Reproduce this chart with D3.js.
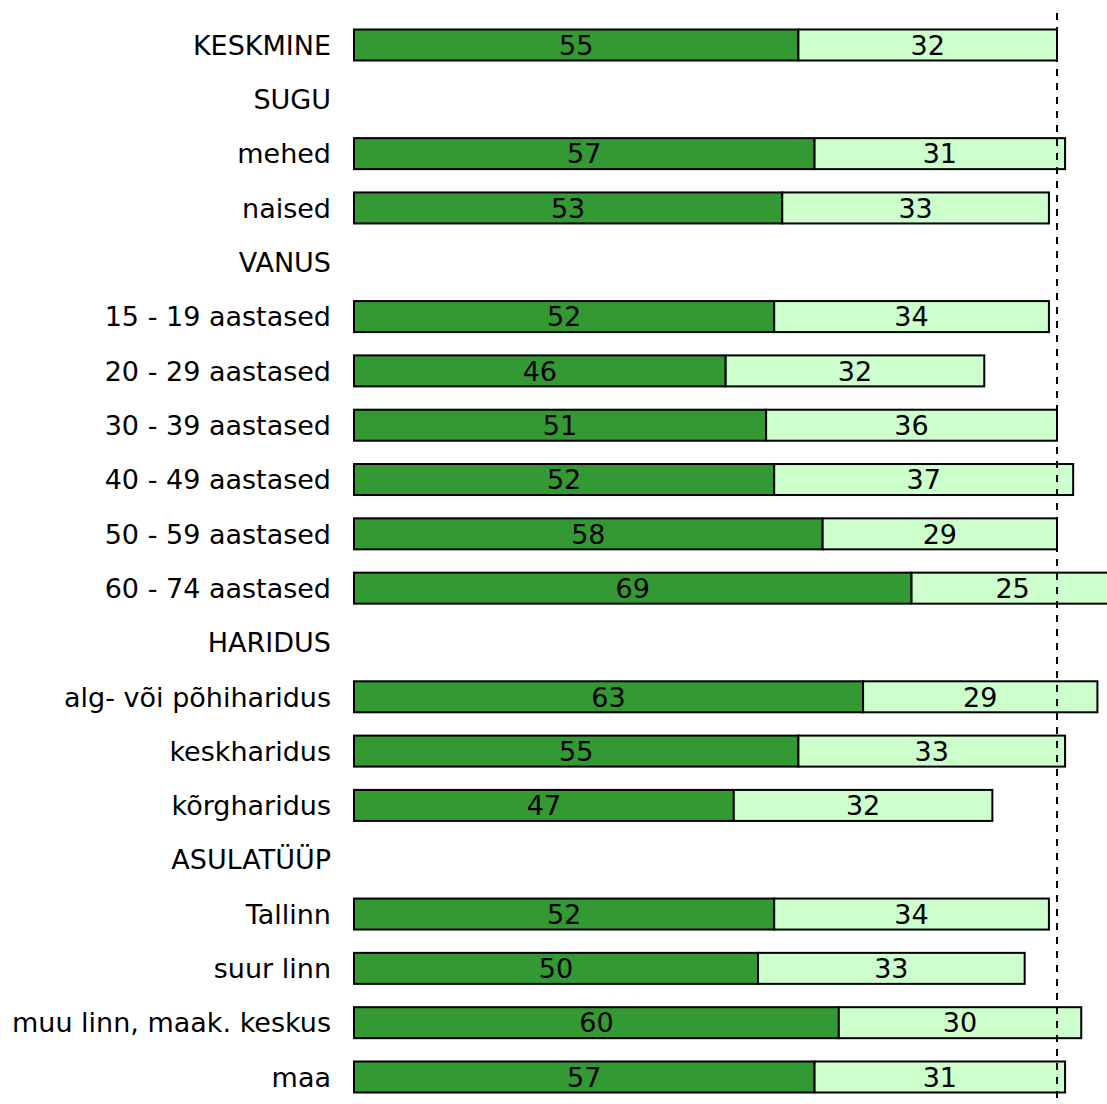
<!DOCTYPE html>
<html>
<head>
<meta charset="utf-8">
<script src="https://cdn.jsdelivr.net/npm/d3@7"></script>
<style>
  body { margin: 0; background: #fff; }
  text { font-family: "DejaVu Sans", Verdana, sans-serif; }
</style>
</head>
<body>
<div id="content"></div>
<script>
// rows in top-to-bottom order; null = group header row without bars
var categories = ['KESKMINE', 'SUGU', 'mehed', 'naised', 'VANUS',
    '15 - 19 aastased', '20 - 29 aastased', '30 - 39 aastased', '40 - 49 aastased',
    '50 - 59 aastased', '60 - 74 aastased', 'HARIDUS', 'alg- või põhiharidus',
    'keskharidus', 'kõrgharidus', 'ASULATÜÜP', 'Tallinn', 'suur linn',
    'muu linn, maak. keskus', 'maa'];
var darkValues  = [55, null, 57, 53, null, 52, 46, 51, 52, 58, 69, null, 63, 55, 47, null, 52, 50, 60, 57];
var lightValues = [32, null, 31, 33, null, 34, 32, 36, 37, 29, 25, null, 29, 33, 32, null, 34, 33, 30, 31];
var averageTotal = 87;

var width = 1107, height = 1104;
var barHeight = 31;
var fontSize = '27px';

var svg = d3.select('#content').append('svg')
    .attr('width', width)
    .attr('height', height);

var xScale = d3.scaleLinear()
    .domain([0, averageTotal])
    .range([354, 1057]);

var yScale = d3.scalePoint()
    .domain(categories)
    .range([45, 1077]);

var rows = categories.map(function(c, i){
    return {cat: c, dark: darkValues[i], light: lightValues[i]};
});

// category labels
svg.selectAll('text.cat').data(rows)
    .enter().append('text')
    .attr('class', 'cat')
    .attr('x', 331)
    .attr('y', function(d){ return yScale(d.cat); })
    .attr('dy', '0.36em')
    .attr('text-anchor', 'end')
    .style('font-size', fontSize)
    .text(function(d){ return d.cat; });

var barRows = rows.filter(function(d){ return d.dark !== null; });

var g = svg.selectAll('g.row').data(barRows)
    .enter().append('g')
    .attr('class', 'row')
    .attr('transform', function(d){ return 'translate(0,' + yScale(d.cat) + ')'; });

g.append('rect')
    .attr('x', xScale(0))
    .attr('y', -barHeight / 2)
    .attr('width', function(d){ return xScale(d.dark) - xScale(0); })
    .attr('height', barHeight)
    .style('fill', '#339933')
    .style('stroke', '#000')
    .style('stroke-width', 2);

g.append('rect')
    .attr('x', function(d){ return xScale(d.dark); })
    .attr('y', -barHeight / 2)
    .attr('width', function(d){ return xScale(d.dark + d.light) - xScale(d.dark); })
    .attr('height', barHeight)
    .style('fill', '#ccffcc')
    .style('stroke', '#000')
    .style('stroke-width', 2);

g.append('text')
    .attr('x', function(d){ return (xScale(0) + xScale(d.dark)) / 2; })
    .attr('dy', '0.36em')
    .attr('text-anchor', 'middle')
    .style('font-size', fontSize)
    .text(function(d){ return d.dark; });

g.append('text')
    .attr('x', function(d){ return (xScale(d.dark) + xScale(d.dark + d.light)) / 2; })
    .attr('dy', '0.36em')
    .attr('text-anchor', 'middle')
    .style('font-size', fontSize)
    .text(function(d){ return d.light; });

// dashed average line
svg.append('line')
    .attr('x1', xScale(averageTotal))
    .attr('x2', xScale(averageTotal))
    .attr('y1', 13)
    .attr('y2', height)
    .style('stroke', '#000')
    .style('stroke-width', 2)
    .style('stroke-dasharray', '7,7');
</script>
</body>
</html>
